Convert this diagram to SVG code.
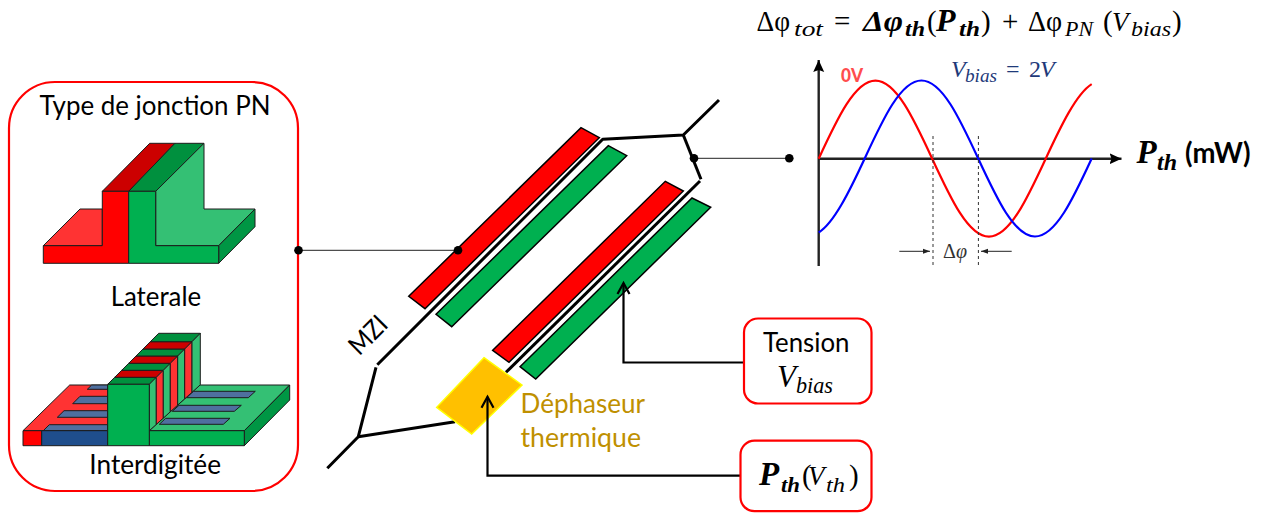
<svg xmlns="http://www.w3.org/2000/svg" width="1261" height="514" viewBox="0 0 1261 514">
<style>
text{font-family:"Lato","Liberation Sans",sans-serif;fill:#000}
.t{font-size:26px}
.m{font-family:"Liberation Serif","DejaVu Serif",serif;font-style:italic;font-size:29px}
.n{font-style:normal}
.b{font-weight:bold}
.s{font-size:22px}
.box{fill:#fff;stroke:#ff0000;stroke-width:2.2}
.e polygon,.e path{stroke:#1c1c1c;stroke-width:1;stroke-linejoin:round}
.st polygon{stroke:#000;stroke-width:1.5}
.wg{fill:none;stroke:#000;stroke-width:3;stroke-linecap:butt;stroke-linejoin:round}
.lead{fill:none;stroke:#222;stroke-width:1}
.arr{fill:none;stroke:#000;stroke-width:2.2;stroke-linejoin:miter;marker-end:url(#open)}
.dot{fill:#000}
.dash{stroke:#333;stroke-width:1;stroke-dasharray:3 3}
</style>
<defs>
<marker id="open" markerUnits="userSpaceOnUse" markerWidth="16" markerHeight="16" refX="13" refY="8" orient="auto"><path d="M2,2 L13,8 L2,14" fill="none" stroke="#000" stroke-width="2.2"/></marker>
<marker id="solid" markerUnits="userSpaceOnUse" markerWidth="14" markerHeight="14" refX="12" refY="6.5" orient="auto"><path d="M0,1 L12,6.5 L0,12 L2,6.5 Z" fill="#000"/></marker>
<marker id="tiny" markerUnits="userSpaceOnUse" markerWidth="8" markerHeight="8" refX="7" refY="4" orient="auto"><path d="M0,1.5 L7,4 L0,6.5 Z" fill="#222"/></marker>
</defs>
<g id="jonction-panel">
<rect class="box" x="9" y="82" width="289" height="409" rx="46"/>
<text class="t" x="39.5" y="115" textLength="231" lengthAdjust="spacingAndGlyphs">Type de jonction PN</text>
</g>
<g id="laterale" class="e">
<polygon points="43.3,245.7 80,209 102.3,209 102.3,245.7" fill="#ff3333"/>
<polygon points="102.3,191.3 149.7,143.3 175,143.3 128.7,191.3" fill="#cc0000"/>
<polygon points="128.7,191.3 175,143.3 204,143.3 155.7,191.3" fill="#00903e"/>
<polygon points="155.7,191.3 204,143.3 204,209 255,209 218.7,245.7 155.7,245.7" fill="#34c074"/>
<polygon points="218.7,245.7 255,209 255,226.7 218.7,263.3" fill="#009644"/>
<polygon points="43.3,245.7 102.3,245.7 102.3,191.3 128.7,191.3 128.7,263.3 43.3,263.3" fill="#ff0000"/>
<polygon points="128.7,191.3 155.7,191.3 155.7,245.7 218.7,245.7 218.7,263.3 128.7,263.3" fill="#00b050"/>
<text class="t" x="110.7" y="306" textLength="90.5" lengthAdjust="spacingAndGlyphs">Laterale</text>
</g>
<g id="interdigitee" class="e">
<polygon points="23,430.7 69.7,385 107.7,385 107.7,430.7" fill="#ff3333"/>
<polygon points="87.3,389.3 91.7,385 107.7,385 107.7,389.3" fill="#4f6f9f"/>
<polygon points="72.7,403.7 80,396.3 107.7,396.3 107.7,403.7" fill="#4f6f9f"/>
<polygon points="57.3,417.3 64,410.7 107.7,410.7 107.7,417.3" fill="#4f6f9f"/>
<polygon points="43.3,430.7 49.3,424.7 107.7,424.7 107.7,430.7" fill="#4f6f9f"/>
<polygon points="149.3,430.7 200,385 289.7,385 244.3,430.7" fill="#34c074"/>
<polygon points="186.7,397.7 193.3,391.3 255.3,391.3 248.3,397.7" fill="#4f6f9f"/>
<polygon points="172.3,411.3 179,405.3 241.3,405.3 234.3,411.3" fill="#4f6f9f"/>
<polygon points="159.3,424.3 165.7,418.3 230,418.3 223.3,424.3" fill="#4f6f9f"/>
<polygon points="244.3,430.7 289.7,385 289.7,400 244.3,445.7" fill="#009644"/>
<polygon points="149.3,430.7 244.3,430.7 244.3,445.7 149.3,445.7" fill="#00b050"/>
<polygon points="23,430.7 41.7,430.7 41.7,445.7 23,445.7" fill="#ff0000"/>
<polygon points="41.7,430.7 107.7,430.7 107.7,445.7 41.7,445.7" fill="#1f4e8c"/>
<polygon points="107.7,384.3 149.3,384.3 156.3,377.3 114.7,377.3" fill="#00903e"/>
<polygon points="114.7,377.3 156.3,377.3 163.3,370.3 121.7,370.3" fill="#cc0000"/>
<polygon points="121.7,370.3 163.3,370.3 170.3,363.3 128.7,363.3" fill="#00903e"/>
<polygon points="128.7,363.3 170.3,363.3 177.7,356 136,356" fill="#cc0000"/>
<polygon points="136,356 177.7,356 184.7,349 143,349" fill="#00903e"/>
<polygon points="143,349 184.7,349 192,341.7 150.3,341.7" fill="#cc0000"/>
<polygon points="150.3,341.7 192,341.7 200.3,333.3 158.7,333.3" fill="#00903e"/>
<polygon points="149.3,384.3 156.3,377.3 156.3,424.4 149.3,430.7" fill="#34c074"/>
<polygon points="156.3,377.3 163.3,370.3 163.3,418.1 156.3,424.4" fill="#ff3333"/>
<polygon points="163.3,370.3 170.3,363.3 170.3,411.8 163.3,418.1" fill="#34c074"/>
<polygon points="170.3,363.3 177.7,356 177.7,405.1 170.3,411.8" fill="#ff3333"/>
<polygon points="177.7,356 184.7,349 184.7,398.8 177.7,405.1" fill="#34c074"/>
<polygon points="184.7,349 192,341.7 192,392.3 184.7,398.8" fill="#ff3333"/>
<polygon points="192,341.7 200.3,333.3 200.3,384.8 192,392.3" fill="#34c074"/>
<polygon points="107.7,384.3 149.3,384.3 149.3,445.7 107.7,445.7" fill="#00b050"/>
<text class="t" x="89.3" y="473.5" textLength="131.7" lengthAdjust="spacingAndGlyphs">Interdigitée</text>
</g>
<g id="mzi">
<g class="st">
<polygon points="408.7,296.3 581,127.7 599.3,137.7 425,308.7" fill="#ff0000"/>
<polygon points="436,314.3 608.3,145.7 626.7,155.7 451.7,326.7" fill="#00b050"/>
<polygon points="492.7,350.3 665.3,181.3 683.3,191 509,362.3" fill="#ff0000"/>
<polygon points="520,366.7 692,198 710.7,207.3 535.7,379" fill="#00b050"/>
</g>
<path class="wg" d="M377.3,364.7 L602.7,139.3 L683.3,135 L719,100"/>
<path class="wg" d="M376,367.3 L358.3,436.7 L327.3,468.3"/>
<path class="wg" d="M358.3,436.7 L455,421.7"/>
<path class="wg" d="M506,372.3 L700,181"/>
<path class="wg" d="M701,179.3 L683.3,135"/>
<text class="t" transform="translate(368,335) rotate(-45)" text-anchor="middle" y="9" x="0" textLength="43" lengthAdjust="spacingAndGlyphs">MZI</text>
</g>
<g id="dephaseur">
<polygon points="484,357.7 522,385 471.7,434 436.7,407.3" fill="#ffc000" stroke="#ffff00" stroke-width="1.5"/>
<text class="t" style="fill:#bf9000" x="520.5" y="412.5" textLength="124.5" lengthAdjust="spacingAndGlyphs">Déphaseur</text>
<text class="t" style="fill:#bf9000" x="520.5" y="446.5" textLength="120.5" lengthAdjust="spacingAndGlyphs">thermique</text>
</g>
<g id="connectors">
<path class="lead" d="M298,250.3 H458"/>
<path class="lead" d="M694,158.3 H789"/>
<circle class="dot" cx="298.5" cy="250.3" r="4.3"/>
<circle class="dot" cx="458" cy="250.3" r="4.3"/>
<circle class="dot" cx="694" cy="158.3" r="4.3"/>
<circle class="dot" cx="789.3" cy="158.3" r="4.3"/>
<path class="arr" d="M745,362.5 H623.5 V283"/>
<path class="arr" d="M741,475.7 H487.5 V396.7"/>
</g>
<g id="tension">
<rect class="box" x="744" y="318.5" width="127.5" height="85" rx="14"/>
<text class="t" x="763" y="351.5" textLength="86.5" lengthAdjust="spacingAndGlyphs">Tension</text>
<text class="m"><tspan x="777" y="387" style="font-size:31px">V</tspan><tspan x="796" y="392.5" style="font-size:24px" textLength="37" lengthAdjust="spacingAndGlyphs">bias</tspan></text>
</g>
<g id="pth-vth">
<rect class="box" x="740.5" y="440.7" width="131" height="70.5" rx="14"/>
<text class="m"><tspan class="b" x="759" y="485" style="font-size:33px">P</tspan><tspan class="b s" x="781" y="491.5" textLength="19" lengthAdjust="spacingAndGlyphs">th</tspan><tspan x="802" y="485" class="n">(</tspan><tspan x="808" y="485" style="font-size:27px">V</tspan><tspan class="s" x="826" y="491.5" textLength="19" lengthAdjust="spacingAndGlyphs">th</tspan><tspan x="849" y="485" class="n">)</tspan></text>
</g>
<g id="formule">
<text class="m"><tspan class="n" x="756.5" y="31" textLength="33.5" lengthAdjust="spacingAndGlyphs">Δφ</tspan><tspan class="s" x="794" y="36" textLength="29" lengthAdjust="spacingAndGlyphs">tot</tspan><tspan class="n" x="834" y="31">=</tspan><tspan class="b" x="863" y="31" textLength="40" lengthAdjust="spacingAndGlyphs">Δφ</tspan><tspan class="b s" x="905" y="36" textLength="20" lengthAdjust="spacingAndGlyphs">th</tspan><tspan class="n" x="927" y="31">(</tspan><tspan class="b" x="936" y="31" style="font-size:32px">P</tspan><tspan class="b s" x="959" y="36" textLength="21" lengthAdjust="spacingAndGlyphs">th</tspan><tspan class="n" x="981" y="31">)</tspan><tspan class="n" x="1002" y="31">+</tspan><tspan class="n" x="1028" y="31" textLength="34" lengthAdjust="spacingAndGlyphs">Δφ</tspan><tspan class="s" x="1065" y="36" textLength="28" lengthAdjust="spacingAndGlyphs">PN</tspan><tspan class="n" x="1103" y="31">(</tspan><tspan x="1112" y="31" style="font-size:27px">V</tspan><tspan class="s" x="1131" y="36" textLength="40" lengthAdjust="spacingAndGlyphs">bias</tspan><tspan class="n" x="1172" y="31">)</tspan></text>
</g>
<g id="graphe">
<path d="M818.7,266 V60" stroke="#222" stroke-width="2.4" fill="none" marker-end="url(#solid)"/>
<path d="M818.7,158.7 H1121.5" stroke="#222" stroke-width="2.4" fill="none" marker-end="url(#solid)"/>
<path d="M818.7,158.7 c18.5,-40 36.2,-78 56.75,-78 c20.55,0 38.25,38 56.75,78 c18.5,40 36.2,78 56.75,78 c20.55,0 38.25,-38 56.75,-78 c15.3,-33 30.7,-65 46,-74.6" fill="none" stroke="#ff0000" stroke-width="2.2"/>
<path d="M818.7,232.5 c15.3,-9.6 30.7,-41 46,-74 c18.5,-40 36.2,-78 56.75,-78 c20.55,0 38.25,38 56.75,78 c18.5,40 36.2,78 56.75,78 c20.55,0 38.25,-38 56.75,-78" fill="none" stroke="#0000ff" stroke-width="2.2"/>
<path class="dash" d="M933,136 V267"/>
<path class="dash" d="M978.4,136 V267"/>
<path d="M899.3,251.3 H930" stroke="#222" stroke-width="1" marker-end="url(#tiny)"/>
<path d="M1011.7,251.3 H981" stroke="#222" stroke-width="1" marker-end="url(#tiny)"/>
<text class="m" style="fill:#333;font-size:20px"><tspan class="n" x="943" y="258">Δ</tspan><tspan x="956" y="258">φ</tspan></text>
<text style="fill:#ff4d4d;font-size:19px;font-weight:900" x="841" y="81.5" textLength="22" lengthAdjust="spacingAndGlyphs">0V</text>
<text class="m" style="fill:#1f3a7a;font-size:24px"><tspan x="951" y="77">V</tspan><tspan style="font-size:18px" x="965" y="82" textLength="32" lengthAdjust="spacingAndGlyphs">bias</tspan><tspan class="n" x="1006" y="77">=</tspan><tspan class="n" x="1029" y="77">2</tspan><tspan x="1040" y="77">V</tspan></text>
<text class="m"><tspan class="b" x="1136.5" y="163" style="font-size:33px">P</tspan><tspan class="b" style="font-size:24px" x="1157" y="170" textLength="20" lengthAdjust="spacingAndGlyphs">th</tspan></text>
<text class="b" style="font-size:28px" x="1185" y="163" textLength="65.5" lengthAdjust="spacingAndGlyphs">(mW)</text>
</g>
</svg>
